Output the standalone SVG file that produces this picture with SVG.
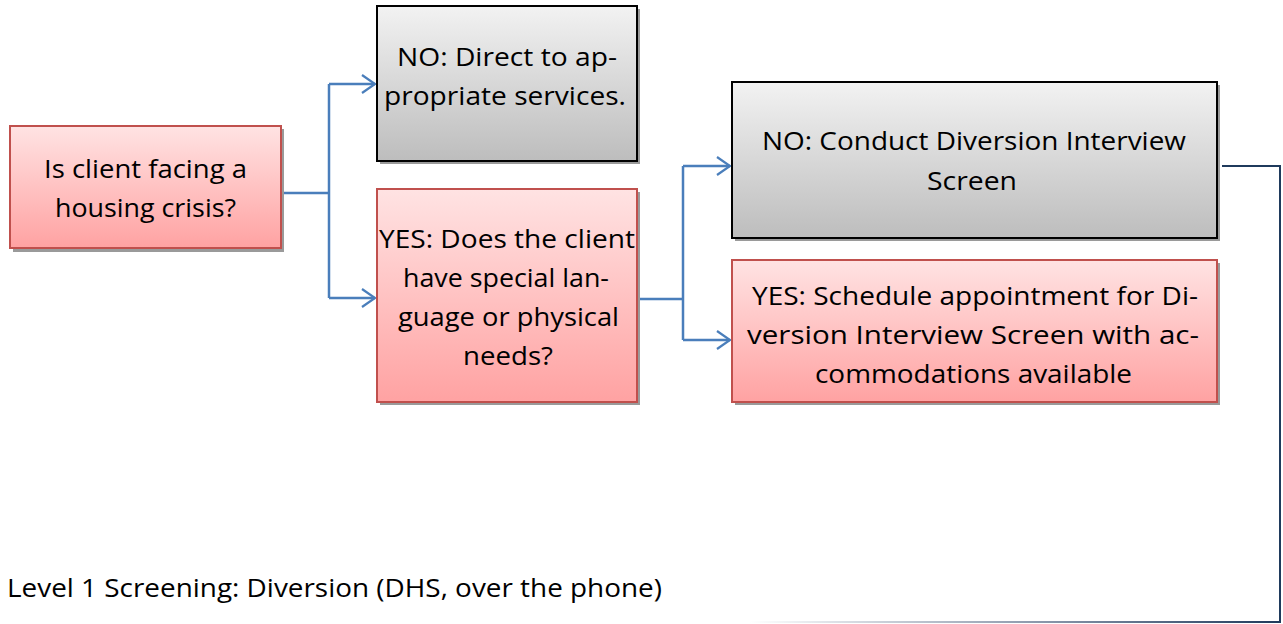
<svg xmlns="http://www.w3.org/2000/svg" width="1283" height="624" viewBox="0 0 1283 624">
<style>
.t{font-family:"Open Sans","Liberation Sans",sans-serif;font-size:26px;fill:#000}
.red{fill:url(#gRed);stroke:#C0504D;stroke-width:2}
.gray{fill:url(#gGray);stroke:#000;stroke-width:2}
.sh{fill:#9a9a9a}
.con{fill:none;stroke:#4A7EBB;stroke-width:2.5}
</style>
<defs>
<linearGradient id="gRed" x1="0" y1="0" x2="0" y2="1">
<stop offset="0" stop-color="#FFE3E3"/><stop offset="1" stop-color="#FFA2A2"/>
</linearGradient>
<linearGradient id="gGray" x1="0" y1="0" x2="0" y2="1">
<stop offset="0" stop-color="#F2F2F2"/><stop offset="1" stop-color="#BDBDBD"/>
</linearGradient>
<linearGradient id="gLine" gradientUnits="userSpaceOnUse" x1="750" y1="0" x2="1280" y2="0">
<stop offset="0" stop-color="#FFFFFF"/><stop offset="0.6" stop-color="#7F8EA3"/><stop offset="1" stop-color="#1F3A5C"/>
</linearGradient>
<marker id="arr" markerWidth="16" markerHeight="22" refX="14" refY="11" orient="auto" markerUnits="userSpaceOnUse">
<path d="M1,2 L14,11 L1,20" fill="none" stroke="#4A7EBB" stroke-width="2.2"/>
</marker>
</defs>

<g id="connectors">
<path class="con" d="M281,193 H329"/>
<path class="con" d="M329,84 V298"/>
<path class="con" d="M329,84 H375" marker-end="url(#arr)"/>
<path class="con" d="M329,298 H375" marker-end="url(#arr)"/>
<path class="con" d="M637,299 H683"/>
<path class="con" d="M683,166 V340"/>
<path class="con" d="M683,166 H730" marker-end="url(#arr)"/>
<path class="con" d="M683,340 H730" marker-end="url(#arr)"/>
<path d="M1222,166 H1280 V622" fill="none" stroke="#1F3A5C" stroke-width="2"/>
<path d="M750,622 H1281" fill="none" stroke="url(#gLine)" stroke-width="2"/>
</g>

<g id="n1">
<rect class="sh" x="13" y="129" width="271" height="123"/>
<rect class="red" x="10" y="126" width="271" height="122"/>
<text class="t" x="44" y="178" textLength="203" lengthAdjust="spacingAndGlyphs">Is client facing a</text>
<text class="t" x="55" y="217" textLength="181" lengthAdjust="spacingAndGlyphs">housing crisis?</text>
</g>

<g id="n2">
<rect class="sh" x="380" y="9" width="260" height="155"/>
<rect class="gray" x="377" y="6" width="260" height="155"/>
<text class="t" x="397" y="66" textLength="220" lengthAdjust="spacingAndGlyphs">NO: Direct to ap-</text>
<text class="t" x="384" y="105" textLength="242" lengthAdjust="spacingAndGlyphs">propriate services.</text>
</g>

<g id="n3">
<rect class="sh" x="380" y="192" width="260" height="213"/>
<rect class="red" x="377" y="189" width="260" height="213"/>
<text class="t" x="379" y="248" textLength="256" lengthAdjust="spacingAndGlyphs">YES: Does the client</text>
<text class="t" x="403" y="287" textLength="206" lengthAdjust="spacingAndGlyphs">have special lan-</text>
<text class="t" x="398" y="326" textLength="221" lengthAdjust="spacingAndGlyphs">guage or physical</text>
<text class="t" x="463" y="365" textLength="90" lengthAdjust="spacingAndGlyphs">needs?</text>
</g>

<g id="n4">
<rect class="sh" x="735" y="85" width="485" height="156"/>
<rect class="gray" x="732" y="82" width="485" height="156"/>
<text class="t" x="762" y="150" textLength="424" lengthAdjust="spacingAndGlyphs">NO: Conduct Diversion Interview</text>
<text class="t" x="927" y="190" textLength="90" lengthAdjust="spacingAndGlyphs">Screen</text>
</g>

<g id="n5">
<rect class="sh" x="735" y="263" width="485" height="142"/>
<rect class="red" x="732" y="260" width="485" height="142"/>
<text class="t" x="752" y="305" textLength="446" lengthAdjust="spacingAndGlyphs">YES: Schedule appointment for Di-</text>
<text class="t" x="747" y="344" textLength="452" lengthAdjust="spacingAndGlyphs">version Interview Screen with ac-</text>
<text class="t" x="815" y="383" textLength="317" lengthAdjust="spacingAndGlyphs">commodations available</text>
</g>

<g id="caption">
<text class="t" x="7" y="597" textLength="655" lengthAdjust="spacingAndGlyphs">Level 1 Screening: Diversion (DHS, over the phone)</text>
</g>
</svg>
